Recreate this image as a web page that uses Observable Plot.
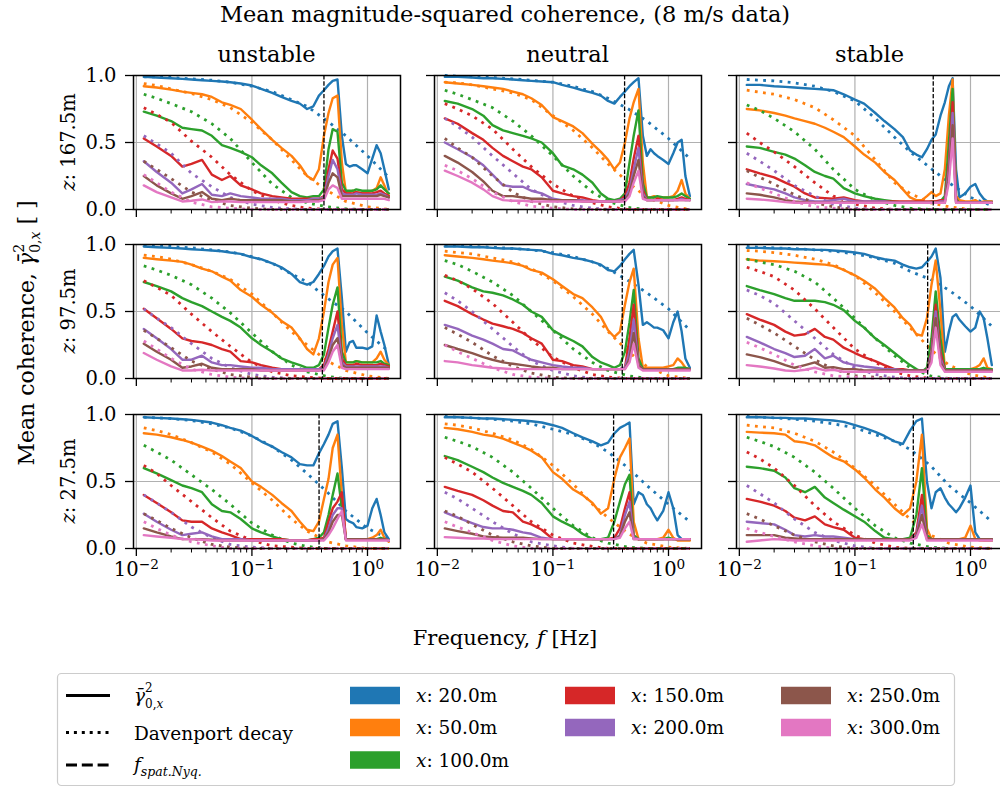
<!DOCTYPE html>
<html><head><meta charset="utf-8">
<script src="https://cdn.jsdelivr.net/npm/d3@7"></script>
<script src="https://cdn.jsdelivr.net/npm/@observablehq/plot@0.6"></script>
<style>
html,body{margin:0;padding:0;background:#fff;}
#fig{position:relative;width:1000px;height:789px;overflow:hidden;background:#fff;}
#fig svg.panel{position:absolute;}
#overlay{position:absolute;left:0;top:0;pointer-events:none;}
</style></head><body><div id="fig"></div>
<script>
// ---------------- data ----------------
const titleText = "Mean magnitude-squared coherence, (8 m/s data)";
const stabilities = ["unstable", "neutral", "stable"];
const heights = [167.5, 97.5, 27.5];
const distances = [20, 50, 100, 150, 200, 250, 300];
const colors = ["#1f77b4", "#ff7f0e", "#2ca02c", "#d62728", "#9467bd", "#8c564b", "#e377c2"];
const xMajorTicks = [0.01, 0.1, 1];
const xMinorTicks = [0.02,0.03,0.04,0.05,0.06,0.07,0.08,0.09,0.2,0.3,0.4,0.5,0.6,0.7,0.8,0.9];
const yTicks = [0, 0.5, 1];

// frequency grid of the measured mean coherence curves [Hz]
const freqs = [0.0116,0.015,0.02,0.025,0.03, 0.037,0.045,0.055,0.065,0.08, 0.1,0.12,0.15,0.18,0.22, 0.26,0.3,0.34,0.38,0.42, 0.46,0.5,0.55,0.6,0.65, 0.7,0.75,0.8,0.9,1.0, 1.1,1.2,1.3,1.4,1.53];
// frequency grid of the Davenport decay curves [Hz]
const davFreqs = [0.0116,0.015,0.02,0.03,0.045,0.065,0.1,0.15,0.22,0.3,0.45,0.65,1.0,1.53];

// spatial Nyquist frequency per row (z) and column (stability)
const nyq_z167 = [0.42, 0.417, 0.476];
const nyq_z97  = [0.407, 0.398, 0.426];
const nyq_z27  = [0.381, 0.335, 0.32];

// mean coherence, rows = x: 20, 50, 100, 150, 200, 250, 300 m
const coh_unstable_167 = [
 [0.99,0.985,0.98,0.975,0.97, 0.965,0.96,0.955,0.95,0.94, 0.925,0.9,0.87,0.84,0.81, 0.79,0.75,0.77,0.85,0.89, 0.93,0.96,0.97,0.55,0.34, 0.32,0.33,0.33,0.3,0.27, 0.38,0.48,0.42,0.3,0.15],
 [0.92,0.91,0.895,0.88,0.87, 0.86,0.84,0.8,0.78,0.75, 0.67,0.6,0.52,0.46,0.4, 0.33,0.25,0.22,0.3,0.55, 0.72,0.83,0.85,0.35,0.13, 0.13,0.14,0.13,0.12,0.13, 0.14,0.16,0.24,0.18,0.1],
 [0.73,0.7,0.66,0.61,0.6, 0.59,0.55,0.48,0.46,0.43, 0.39,0.33,0.27,0.2,0.13, 0.1,0.09,0.1,0.1,0.15, 0.45,0.6,0.58,0.2,0.14, 0.14,0.14,0.15,0.14,0.14, 0.14,0.15,0.18,0.15,0.12],
 [0.53,0.47,0.4,0.32,0.34, 0.37,0.26,0.22,0.25,0.18, 0.15,0.12,0.1,0.09,0.08, 0.08,0.08,0.08,0.08,0.1, 0.3,0.44,0.38,0.15,0.12, 0.12,0.12,0.13,0.12,0.12, 0.12,0.13,0.14,0.12,0.1],
 [0.36,0.28,0.2,0.12,0.15, 0.19,0.11,0.1,0.12,0.1, 0.09,0.08,0.08,0.08,0.07, 0.07,0.07,0.08,0.08,0.09, 0.25,0.37,0.3,0.12,0.11, 0.11,0.11,0.12,0.11,0.11, 0.11,0.11,0.12,0.11,0.09],
 [0.25,0.18,0.12,0.08,0.1, 0.13,0.08,0.07,0.08,0.07, 0.07,0.07,0.07,0.07,0.06, 0.06,0.06,0.07,0.07,0.08, 0.2,0.27,0.24,0.1,0.1, 0.1,0.1,0.1,0.1,0.1, 0.1,0.1,0.11,0.1,0.09],
 [0.18,0.13,0.09,0.06,0.065, 0.075,0.055,0.06,0.06,0.055, 0.055,0.055,0.055,0.055,0.055, 0.055,0.06,0.06,0.06,0.07, 0.15,0.18,0.16,0.08,0.08, 0.08,0.08,0.08,0.08,0.08, 0.08,0.08,0.08,0.08,0.07]
];
const coh_neutral_167 = [
 [0.99,0.99,0.985,0.98,0.98, 0.975,0.97,0.965,0.96,0.955, 0.95,0.93,0.91,0.89,0.87, 0.85,0.81,0.79,0.84,0.88, 0.92,0.95,0.98,0.55,0.4, 0.45,0.42,0.4,0.37,0.34, 0.42,0.5,0.52,0.25,0.1],
 [0.95,0.94,0.93,0.92,0.91, 0.9,0.88,0.86,0.83,0.78, 0.69,0.66,0.62,0.57,0.49, 0.43,0.37,0.3,0.35,0.5, 0.68,0.8,0.9,0.35,0.09, 0.09,0.1,0.09,0.09,0.09, 0.1,0.14,0.22,0.12,0.08],
 [0.81,0.79,0.75,0.7,0.63, 0.59,0.57,0.55,0.53,0.5, 0.42,0.33,0.3,0.26,0.2, 0.12,0.08,0.07,0.08,0.12, 0.35,0.55,0.74,0.2,0.09, 0.09,0.09,0.1,0.09,0.09, 0.09,0.1,0.12,0.1,0.08],
 [0.68,0.64,0.57,0.52,0.46, 0.4,0.36,0.32,0.3,0.24, 0.14,0.12,0.1,0.09,0.07, 0.06,0.06,0.06,0.07,0.1, 0.2,0.38,0.55,0.15,0.07, 0.07,0.07,0.08,0.07,0.07, 0.07,0.08,0.09,0.08,0.07],
 [0.5,0.45,0.39,0.33,0.26, 0.18,0.17,0.17,0.14,0.12, 0.08,0.07,0.07,0.07,0.06, 0.06,0.06,0.06,0.07,0.08, 0.15,0.3,0.46,0.12,0.07, 0.07,0.07,0.07,0.07,0.07, 0.07,0.07,0.08,0.07,0.07],
 [0.4,0.35,0.28,0.21,0.14, 0.1,0.1,0.09,0.08,0.08, 0.07,0.07,0.07,0.06,0.06, 0.06,0.06,0.06,0.06,0.07, 0.12,0.25,0.37,0.1,0.07, 0.07,0.07,0.07,0.07,0.07, 0.07,0.07,0.07,0.07,0.07],
 [0.29,0.25,0.2,0.15,0.1, 0.07,0.065,0.065,0.06,0.06, 0.06,0.06,0.06,0.06,0.06, 0.06,0.06,0.06,0.06,0.06, 0.1,0.2,0.29,0.08,0.07, 0.07,0.07,0.07,0.07,0.07, 0.07,0.07,0.07,0.07,0.07]
];
const coh_stable_167 = [
 [0.93,0.93,0.92,0.915,0.91, 0.905,0.9,0.895,0.89,0.86, 0.82,0.79,0.72,0.66,0.6, 0.54,0.44,0.41,0.39,0.45, 0.52,0.56,0.7,0.8,0.92, 0.98,0.3,0.09,0.12,0.17, 0.19,0.12,0.08,0.06,0.06],
 [0.75,0.74,0.72,0.7,0.68, 0.66,0.64,0.61,0.58,0.54, 0.47,0.41,0.35,0.28,0.22, 0.15,0.09,0.07,0.07,0.1, 0.13,0.1,0.12,0.3,0.7, 0.97,0.1,0.07,0.06,0.06, 0.07,0.05,0.06,0.06,0.06],
 [0.47,0.46,0.43,0.41,0.38, 0.33,0.28,0.25,0.23,0.16, 0.12,0.1,0.08,0.07,0.06, 0.05,0.05,0.05,0.05,0.05, 0.06,0.06,0.06,0.1,0.5, 0.9,0.08,0.05,0.05,0.05, 0.05,0.05,0.05,0.05,0.05],
 [0.3,0.27,0.24,0.2,0.17, 0.12,0.09,0.085,0.08,0.09, 0.07,0.06,0.06,0.06,0.06, 0.06,0.06,0.06,0.06,0.06, 0.06,0.06,0.07,0.07,0.35, 0.8,0.07,0.05,0.05,0.05, 0.05,0.05,0.05,0.05,0.05],
 [0.19,0.17,0.15,0.12,0.09, 0.07,0.06,0.06,0.07,0.08, 0.06,0.06,0.06,0.06,0.05, 0.05,0.05,0.05,0.05,0.05, 0.05,0.05,0.06,0.06,0.3, 0.72,0.06,0.05,0.05,0.05, 0.05,0.05,0.05,0.05,0.05],
 [0.12,0.11,0.09,0.07,0.06, 0.055,0.05,0.05,0.05,0.055, 0.05,0.05,0.05,0.05,0.05, 0.05,0.05,0.05,0.05,0.05, 0.05,0.05,0.05,0.05,0.25, 0.63,0.05,0.05,0.05,0.05, 0.05,0.05,0.05,0.05,0.05],
 [0.08,0.075,0.065,0.055,0.05, 0.05,0.05,0.05,0.05,0.05, 0.05,0.05,0.05,0.05,0.05, 0.05,0.05,0.05,0.05,0.05, 0.05,0.05,0.05,0.05,0.2, 0.53,0.05,0.05,0.05,0.05, 0.05,0.05,0.05,0.05,0.05]
];
const coh_unstable_97 = [
 [0.985,0.98,0.975,0.97,0.965, 0.96,0.955,0.95,0.94,0.93, 0.905,0.89,0.86,0.83,0.78, 0.72,0.7,0.72,0.78,0.84, 0.91,0.95,0.97,0.6,0.2, 0.27,0.28,0.23,0.23,0.22, 0.24,0.47,0.35,0.25,0.1],
 [0.9,0.89,0.88,0.87,0.85, 0.82,0.8,0.76,0.73,0.66, 0.61,0.55,0.49,0.43,0.38, 0.3,0.22,0.18,0.3,0.5, 0.72,0.85,0.9,0.4,0.12, 0.12,0.12,0.13,0.12,0.12, 0.12,0.15,0.2,0.14,0.1],
 [0.72,0.69,0.65,0.6,0.57, 0.54,0.5,0.46,0.43,0.38, 0.3,0.25,0.2,0.15,0.12, 0.1,0.08,0.08,0.1,0.18, 0.38,0.55,0.68,0.2,0.12, 0.12,0.12,0.13,0.12,0.12, 0.12,0.12,0.13,0.11,0.1],
 [0.52,0.45,0.37,0.3,0.28, 0.27,0.25,0.22,0.2,0.13, 0.12,0.1,0.08,0.07,0.07, 0.07,0.07,0.07,0.07,0.1, 0.22,0.35,0.5,0.15,0.1, 0.1,0.1,0.11,0.1,0.1, 0.1,0.1,0.11,0.1,0.09],
 [0.37,0.3,0.22,0.14,0.14, 0.17,0.12,0.1,0.1,0.09, 0.08,0.08,0.07,0.07,0.07, 0.07,0.07,0.07,0.07,0.08, 0.18,0.3,0.4,0.12,0.09, 0.09,0.09,0.09,0.09,0.09, 0.09,0.09,0.09,0.09,0.08],
 [0.26,0.2,0.14,0.08,0.09, 0.11,0.08,0.07,0.07,0.07, 0.07,0.06,0.06,0.06,0.06, 0.06,0.06,0.06,0.06,0.07, 0.15,0.25,0.3,0.1,0.08, 0.08,0.08,0.08,0.08,0.08, 0.08,0.08,0.08,0.08,0.08],
 [0.19,0.14,0.09,0.06,0.06, 0.065,0.06,0.06,0.06,0.06, 0.06,0.06,0.06,0.06,0.06, 0.06,0.06,0.06,0.06,0.06, 0.12,0.2,0.25,0.08,0.07, 0.07,0.07,0.07,0.07,0.07, 0.07,0.07,0.07,0.07,0.07]
];
const coh_neutral_97 = [
 [0.985,0.985,0.98,0.98,0.975, 0.97,0.97,0.965,0.96,0.955, 0.93,0.92,0.9,0.89,0.87, 0.85,0.81,0.8,0.84,0.89, 0.93,0.96,0.7,0.4,0.42, 0.4,0.38,0.38,0.36,0.3, 0.42,0.5,0.35,0.15,0.08],
 [0.92,0.91,0.9,0.89,0.88, 0.87,0.86,0.84,0.81,0.79, 0.74,0.69,0.63,0.6,0.53, 0.46,0.36,0.31,0.35,0.55, 0.72,0.82,0.3,0.08,0.08, 0.08,0.08,0.08,0.08,0.09, 0.1,0.15,0.12,0.08,0.07],
 [0.76,0.73,0.68,0.65,0.64, 0.62,0.59,0.55,0.5,0.46, 0.36,0.32,0.28,0.24,0.16, 0.12,0.1,0.08,0.1,0.2, 0.42,0.66,0.15,0.07,0.07, 0.07,0.07,0.07,0.07,0.07, 0.07,0.08,0.08,0.08,0.07],
 [0.58,0.54,0.48,0.44,0.41, 0.39,0.37,0.34,0.3,0.26, 0.14,0.13,0.1,0.09,0.07, 0.07,0.07,0.07,0.07,0.08, 0.3,0.55,0.1,0.07,0.07, 0.07,0.07,0.07,0.07,0.07, 0.07,0.07,0.07,0.07,0.07],
 [0.4,0.37,0.32,0.29,0.26, 0.22,0.21,0.17,0.14,0.12, 0.1,0.09,0.08,0.08,0.07, 0.07,0.07,0.07,0.07,0.08, 0.2,0.44,0.1,0.07,0.07, 0.07,0.07,0.07,0.07,0.07, 0.07,0.07,0.07,0.07,0.07],
 [0.25,0.22,0.19,0.16,0.14, 0.12,0.11,0.1,0.09,0.08, 0.08,0.07,0.07,0.07,0.07, 0.07,0.07,0.07,0.07,0.07, 0.15,0.34,0.1,0.07,0.07, 0.07,0.07,0.07,0.07,0.07, 0.07,0.07,0.07,0.07,0.07],
 [0.13,0.12,0.1,0.09,0.08, 0.075,0.07,0.07,0.07,0.07, 0.07,0.07,0.07,0.07,0.07, 0.07,0.07,0.07,0.07,0.07, 0.12,0.26,0.08,0.06,0.06, 0.06,0.06,0.06,0.06,0.06, 0.06,0.06,0.06,0.06,0.06]
];
const coh_stable_97 = [
 [0.975,0.975,0.97,0.97,0.965, 0.965,0.96,0.96,0.955,0.95, 0.94,0.93,0.905,0.89,0.88, 0.85,0.83,0.82,0.83,0.87, 0.91,0.97,0.75,0.2,0.35, 0.46,0.48,0.44,0.39,0.35, 0.38,0.5,0.45,0.3,0.1],
 [0.89,0.88,0.875,0.87,0.865, 0.86,0.855,0.85,0.84,0.81, 0.77,0.73,0.67,0.6,0.53, 0.45,0.4,0.33,0.32,0.45, 0.7,0.88,0.5,0.07,0.07, 0.07,0.07,0.07,0.07,0.07, 0.08,0.1,0.15,0.08,0.07],
 [0.69,0.66,0.63,0.6,0.58, 0.58,0.58,0.57,0.55,0.51, 0.43,0.38,0.3,0.25,0.19, 0.14,0.1,0.07,0.05,0.08, 0.3,0.65,0.3,0.07,0.07, 0.07,0.07,0.07,0.07,0.07, 0.07,0.07,0.08,0.07,0.07],
 [0.48,0.44,0.4,0.35,0.32, 0.33,0.37,0.31,0.29,0.23, 0.19,0.16,0.13,0.1,0.07, 0.07,0.06,0.06,0.06,0.06, 0.2,0.55,0.2,0.06,0.06, 0.06,0.06,0.06,0.06,0.06, 0.06,0.06,0.06,0.06,0.06],
 [0.31,0.27,0.22,0.19,0.16, 0.17,0.22,0.15,0.17,0.12, 0.1,0.09,0.08,0.07,0.07, 0.06,0.06,0.06,0.06,0.06, 0.18,0.5,0.15,0.06,0.06, 0.06,0.06,0.06,0.06,0.06, 0.06,0.06,0.06,0.06,0.06],
 [0.18,0.16,0.13,0.1,0.08, 0.1,0.12,0.08,0.085,0.07, 0.07,0.06,0.06,0.06,0.06, 0.06,0.06,0.06,0.06,0.06, 0.15,0.45,0.12,0.06,0.06, 0.06,0.06,0.06,0.06,0.06, 0.06,0.06,0.06,0.06,0.06],
 [0.1,0.09,0.075,0.06,0.055, 0.065,0.08,0.06,0.065,0.05, 0.05,0.05,0.05,0.05,0.05, 0.05,0.05,0.05,0.05,0.05, 0.12,0.38,0.1,0.05,0.05, 0.05,0.05,0.05,0.05,0.05, 0.05,0.05,0.05,0.05,0.05]
];
const coh_unstable_27 = [
 [0.98,0.975,0.97,0.965,0.96, 0.95,0.94,0.92,0.9,0.88, 0.84,0.8,0.76,0.72,0.68, 0.63,0.62,0.62,0.71,0.78, 0.85,0.93,0.95,0.6,0.22, 0.2,0.19,0.16,0.15,0.17, 0.3,0.37,0.25,0.12,0.07],
 [0.86,0.85,0.83,0.81,0.79, 0.76,0.73,0.69,0.65,0.6, 0.5,0.46,0.4,0.34,0.28, 0.2,0.14,0.13,0.2,0.37, 0.52,0.75,0.85,0.4,0.07, 0.07,0.07,0.07,0.07,0.07, 0.08,0.1,0.14,0.08,0.05],
 [0.6,0.56,0.51,0.47,0.45, 0.42,0.33,0.28,0.27,0.22, 0.15,0.12,0.09,0.07,0.06, 0.06,0.06,0.07,0.08,0.12, 0.25,0.4,0.56,0.3,0.07, 0.07,0.07,0.07,0.07,0.07, 0.07,0.07,0.08,0.07,0.06],
 [0.4,0.34,0.27,0.21,0.2, 0.2,0.15,0.12,0.1,0.07, 0.07,0.07,0.07,0.07,0.06, 0.06,0.06,0.07,0.07,0.08, 0.2,0.3,0.35,0.42,0.07, 0.07,0.07,0.07,0.07,0.07, 0.07,0.07,0.07,0.07,0.06],
 [0.26,0.2,0.14,0.1,0.11, 0.12,0.09,0.07,0.07,0.07, 0.06,0.06,0.06,0.06,0.06, 0.06,0.06,0.06,0.06,0.07, 0.15,0.25,0.3,0.3,0.07, 0.07,0.07,0.07,0.07,0.07, 0.07,0.07,0.07,0.07,0.06],
 [0.15,0.12,0.09,0.07,0.07, 0.07,0.065,0.06,0.06,0.06, 0.06,0.06,0.06,0.06,0.06, 0.06,0.06,0.06,0.06,0.07, 0.12,0.2,0.25,0.25,0.07, 0.07,0.07,0.07,0.07,0.07, 0.07,0.07,0.07,0.07,0.06],
 [0.1,0.09,0.08,0.07,0.07, 0.065,0.06,0.06,0.06,0.06, 0.06,0.06,0.06,0.06,0.06, 0.06,0.06,0.06,0.06,0.06, 0.1,0.15,0.22,0.28,0.06, 0.06,0.06,0.06,0.06,0.06, 0.06,0.06,0.06,0.06,0.06]
];
const coh_neutral_27 = [
 [0.98,0.98,0.975,0.97,0.97, 0.965,0.96,0.955,0.95,0.94, 0.92,0.9,0.86,0.83,0.8, 0.77,0.79,0.86,0.9,0.92, 0.94,0.33,0.42,0.4,0.33, 0.3,0.25,0.21,0.28,0.42, 0.3,0.1,0.07,0.07,0.07],
 [0.9,0.89,0.87,0.85,0.84, 0.82,0.79,0.76,0.73,0.68, 0.57,0.52,0.44,0.4,0.34, 0.26,0.3,0.52,0.68,0.75, 0.82,0.2,0.07,0.07,0.07, 0.07,0.07,0.07,0.08,0.14, 0.08,0.06,0.06,0.06,0.06],
 [0.69,0.66,0.61,0.57,0.53, 0.49,0.46,0.43,0.4,0.34, 0.24,0.2,0.16,0.11,0.07, 0.07,0.08,0.2,0.35,0.48, 0.55,0.1,0.07,0.07,0.07, 0.07,0.07,0.07,0.07,0.08, 0.07,0.07,0.07,0.07,0.07],
 [0.46,0.43,0.4,0.36,0.32, 0.28,0.27,0.2,0.18,0.14, 0.07,0.07,0.07,0.07,0.07, 0.07,0.07,0.08,0.15,0.3, 0.42,0.08,0.07,0.07,0.07, 0.07,0.07,0.07,0.07,0.07, 0.07,0.07,0.07,0.07,0.07],
 [0.27,0.23,0.19,0.16,0.15, 0.15,0.14,0.12,0.11,0.08, 0.07,0.07,0.07,0.07,0.07, 0.07,0.07,0.07,0.1,0.25, 0.35,0.08,0.07,0.07,0.07, 0.07,0.07,0.07,0.07,0.07, 0.07,0.07,0.07,0.07,0.07],
 [0.15,0.13,0.11,0.09,0.085, 0.08,0.08,0.08,0.075,0.07, 0.07,0.07,0.07,0.07,0.07, 0.07,0.07,0.07,0.09,0.2, 0.27,0.07,0.07,0.07,0.07, 0.07,0.07,0.07,0.07,0.07, 0.07,0.07,0.07,0.07,0.07],
 [0.085,0.08,0.075,0.075,0.07, 0.07,0.07,0.07,0.07,0.07, 0.07,0.07,0.07,0.07,0.07, 0.07,0.07,0.07,0.08,0.15, 0.2,0.07,0.07,0.07,0.07, 0.07,0.07,0.07,0.07,0.07, 0.07,0.07,0.07,0.07,0.07]
];
const coh_stable_27 = [
 [0.98,0.98,0.975,0.975,0.97, 0.97,0.965,0.96,0.955,0.945, 0.92,0.9,0.87,0.84,0.8, 0.78,0.88,0.95,0.97,0.5, 0.3,0.42,0.45,0.38,0.33, 0.3,0.27,0.3,0.38,0.47, 0.12,0.07,0.06,0.06,0.06],
 [0.87,0.865,0.86,0.85,0.8, 0.79,0.77,0.72,0.68,0.65, 0.59,0.53,0.44,0.38,0.3, 0.25,0.3,0.5,0.85,0.15, 0.07,0.07,0.07,0.07,0.07, 0.07,0.07,0.07,0.08,0.17, 0.07,0.06,0.06,0.06,0.06],
 [0.61,0.6,0.58,0.53,0.45, 0.42,0.46,0.38,0.34,0.29, 0.24,0.2,0.13,0.08,0.07, 0.07,0.08,0.25,0.6,0.1, 0.07,0.07,0.07,0.07,0.07, 0.07,0.07,0.07,0.07,0.07, 0.07,0.07,0.07,0.07,0.07],
 [0.37,0.35,0.32,0.28,0.23, 0.21,0.24,0.18,0.16,0.14, 0.08,0.07,0.07,0.07,0.07, 0.07,0.07,0.12,0.4,0.08, 0.07,0.07,0.07,0.07,0.07, 0.07,0.07,0.07,0.07,0.07, 0.07,0.07,0.07,0.07,0.07],
 [0.2,0.19,0.18,0.14,0.1, 0.09,0.1,0.09,0.09,0.08, 0.07,0.07,0.07,0.07,0.07, 0.07,0.07,0.1,0.32,0.07, 0.07,0.07,0.07,0.07,0.07, 0.07,0.07,0.07,0.07,0.07, 0.07,0.07,0.07,0.07,0.07],
 [0.1,0.1,0.1,0.08,0.075, 0.07,0.07,0.07,0.07,0.07, 0.07,0.07,0.07,0.07,0.07, 0.07,0.07,0.09,0.25,0.07, 0.07,0.07,0.07,0.07,0.07, 0.07,0.07,0.07,0.07,0.07, 0.07,0.07,0.07,0.07,0.07],
 [0.05,0.06,0.07,0.065,0.06, 0.06,0.06,0.06,0.06,0.06, 0.06,0.06,0.06,0.06,0.06, 0.06,0.06,0.08,0.18,0.06, 0.06,0.06,0.06,0.06,0.06, 0.06,0.06,0.06,0.06,0.06, 0.06,0.06,0.06,0.06,0.06]
];

// Davenport decay, rows = x: 20 ... 300 m
const dav_unstable_167 = [
 [0.99,0.99,0.985,0.975,0.965,0.95,0.92,0.88,0.82,0.77,0.66,0.55,0.4,0.24],
 [0.94,0.925,0.9,0.865,0.82,0.76,0.65,0.52,0.37,0.25,0.14,0.06,0.02,0],
 [0.86,0.83,0.79,0.73,0.64,0.53,0.35,0.19,0.09,0.05,0.02,0.005,0,0],
 [0.76,0.71,0.65,0.51,0.39,0.26,0.14,0.07,0.03,0.01,0,0,0,0],
 [0.55,0.49,0.42,0.27,0.17,0.09,0.04,0.015,0.005,0,0,0,0,0],
 [0.36,0.3,0.23,0.13,0.07,0.03,0.01,0,0,0,0,0,0,0],
 [0.26,0.2,0.13,0.055,0.02,0.01,0,0,0,0,0,0,0,0]
];
const dav_neutral_167 = [
 [1.0,0.995,0.99,0.985,0.975,0.965,0.95,0.92,0.88,0.83,0.75,0.66,0.53,0.38],
 [0.95,0.945,0.93,0.9,0.87,0.82,0.7,0.59,0.46,0.34,0.2,0.09,0.03,0],
 [0.89,0.86,0.82,0.76,0.66,0.55,0.4,0.25,0.13,0.06,0.015,0,0,0],
 [0.79,0.75,0.7,0.6,0.45,0.32,0.19,0.1,0.05,0.02,0,0,0,0],
 [0.68,0.62,0.54,0.4,0.27,0.15,0.07,0.03,0.01,0,0,0,0,0],
 [0.53,0.46,0.39,0.25,0.13,0.06,0.02,0.005,0,0,0,0,0,0],
 [0.33,0.29,0.23,0.13,0.06,0.025,0.01,0,0,0,0,0,0,0]
];
const dav_stable_167 = [
 [0.97,0.965,0.96,0.945,0.92,0.88,0.81,0.68,0.54,0.43,0.31,0.2,0.09,0.03],
 [0.89,0.875,0.86,0.82,0.76,0.67,0.55,0.37,0.2,0.12,0.05,0.02,0,0],
 [0.78,0.74,0.68,0.58,0.45,0.3,0.15,0.07,0.03,0.01,0,0,0,0],
 [0.57,0.5,0.43,0.32,0.2,0.1,0.04,0.01,0,0,0,0,0,0],
 [0.42,0.36,0.29,0.18,0.1,0.04,0.01,0,0,0,0,0,0,0],
 [0.29,0.24,0.19,0.11,0.05,0.02,0,0,0,0,0,0,0,0],
 [0.2,0.16,0.12,0.06,0.02,0.01,0,0,0,0,0,0,0,0]
];
const dav_unstable_97 = [
 [0.99,0.99,0.985,0.975,0.96,0.945,0.91,0.86,0.78,0.72,0.6,0.5,0.34,0.2],
 [0.92,0.91,0.89,0.85,0.8,0.74,0.63,0.49,0.35,0.25,0.13,0.06,0.02,0],
 [0.84,0.81,0.77,0.7,0.6,0.49,0.34,0.2,0.1,0.05,0.015,0,0,0],
 [0.73,0.68,0.62,0.48,0.35,0.24,0.12,0.05,0.02,0.01,0,0,0,0],
 [0.52,0.45,0.38,0.26,0.15,0.08,0.03,0.01,0,0,0,0,0,0],
 [0.36,0.3,0.23,0.13,0.07,0.03,0.01,0,0,0,0,0,0,0],
 [0.28,0.22,0.15,0.07,0.03,0.01,0,0,0,0,0,0,0,0]
];
const dav_neutral_97 = [
 [0.99,0.99,0.985,0.98,0.97,0.96,0.94,0.91,0.87,0.82,0.73,0.64,0.52,0.36],
 [0.95,0.94,0.93,0.9,0.87,0.82,0.73,0.61,0.48,0.35,0.2,0.09,0.02,0],
 [0.88,0.85,0.8,0.72,0.62,0.5,0.36,0.22,0.12,0.06,0.02,0,0,0],
 [0.77,0.73,0.67,0.56,0.42,0.29,0.16,0.08,0.03,0.01,0,0,0,0],
 [0.64,0.58,0.5,0.37,0.24,0.13,0.06,0.02,0,0,0,0,0,0],
 [0.38,0.33,0.27,0.17,0.09,0.04,0.01,0,0,0,0,0,0,0],
 [0.25,0.2,0.15,0.08,0.03,0.01,0,0,0,0,0,0,0,0]
];
const dav_stable_97 = [
 [0.985,0.98,0.975,0.97,0.96,0.95,0.93,0.9,0.86,0.8,0.74,0.66,0.54,0.39],
 [0.955,0.95,0.94,0.92,0.89,0.85,0.77,0.64,0.5,0.38,0.22,0.1,0.03,0],
 [0.89,0.87,0.85,0.8,0.72,0.6,0.45,0.3,0.17,0.08,0.02,0,0,0],
 [0.83,0.8,0.76,0.66,0.52,0.38,0.22,0.12,0.05,0.02,0,0,0,0],
 [0.66,0.62,0.56,0.43,0.3,0.18,0.08,0.03,0.01,0,0,0,0,0],
 [0.45,0.4,0.34,0.24,0.14,0.07,0.02,0.01,0,0,0,0,0,0],
 [0.27,0.23,0.18,0.1,0.05,0.02,0.01,0,0,0,0,0,0,0]
];
const dav_unstable_27 = [
 [0.98,0.975,0.97,0.955,0.93,0.9,0.84,0.76,0.66,0.56,0.42,0.28,0.15,0.07],
 [0.9,0.88,0.85,0.79,0.72,0.63,0.49,0.36,0.22,0.13,0.05,0.02,0,0],
 [0.77,0.72,0.66,0.55,0.44,0.33,0.19,0.1,0.04,0.015,0,0,0,0],
 [0.62,0.56,0.47,0.35,0.23,0.13,0.06,0.02,0.01,0,0,0,0,0],
 [0.4,0.34,0.27,0.16,0.08,0.03,0.01,0,0,0,0,0,0,0],
 [0.26,0.21,0.15,0.08,0.03,0.01,0,0,0,0,0,0,0,0],
 [0.2,0.15,0.1,0.05,0.02,0,0,0,0,0,0,0,0,0]
];
const dav_neutral_27 = [
 [0.985,0.98,0.975,0.965,0.95,0.93,0.89,0.85,0.79,0.72,0.6,0.47,0.33,0.2],
 [0.93,0.92,0.9,0.86,0.81,0.74,0.62,0.48,0.33,0.23,0.11,0.04,0.01,0],
 [0.83,0.8,0.76,0.68,0.57,0.45,0.3,0.17,0.08,0.04,0.01,0,0,0],
 [0.68,0.63,0.57,0.45,0.32,0.2,0.1,0.04,0.015,0,0,0,0,0],
 [0.42,0.37,0.3,0.2,0.11,0.05,0.02,0,0,0,0,0,0,0],
 [0.28,0.24,0.18,0.1,0.05,0.02,0,0,0,0,0,0,0,0],
 [0.2,0.16,0.12,0.06,0.02,0,0,0,0,0,0,0,0,0]
];
const dav_stable_27 = [
 [0.985,0.98,0.975,0.965,0.95,0.93,0.9,0.85,0.8,0.74,0.62,0.47,0.34,0.2],
 [0.92,0.91,0.9,0.86,0.8,0.72,0.6,0.47,0.33,0.22,0.1,0.04,0.01,0],
 [0.83,0.8,0.76,0.68,0.57,0.45,0.3,0.17,0.08,0.04,0.01,0,0,0],
 [0.72,0.67,0.6,0.47,0.32,0.2,0.1,0.04,0.01,0,0,0,0,0],
 [0.47,0.41,0.34,0.22,0.12,0.06,0.02,0,0,0,0,0,0,0],
 [0.26,0.22,0.17,0.1,0.05,0.02,0,0,0,0,0,0,0,0],
 [0.15,0.12,0.09,0.05,0.02,0,0,0,0,0,0,0,0,0]
];

// ---------------- layout ----------------
const cohGrid = [[coh_unstable_167, coh_neutral_167, coh_stable_167],
                 [coh_unstable_97, coh_neutral_97, coh_stable_97],
                 [coh_unstable_27, coh_neutral_27, coh_stable_27]];
const davGrid = [[dav_unstable_167, dav_neutral_167, dav_stable_167],
                 [dav_unstable_97, dav_neutral_97, dav_stable_97],
                 [dav_unstable_27, dav_neutral_27, dav_stable_27]];
const nyqGrid = [nyq_z167, nyq_z97, nyq_z27];

const FONT = "'DejaVu Serif', serif";
const colLeft = [133, 434, 736], rowTop = [75, 244, 414];
const PW = 267, PH = 134;
const ML = 62, MR = 6, MT = 6, MB = 52;
const xDomain = [0.00945, 1.93];
const fig = document.getElementById("fig");
const NS = "http://www.w3.org/2000/svg";

function supTicks(svg) {
  svg.querySelectorAll("text").forEach(t => {
    const m = /^10\^(.+)$/.exec(t.textContent);
    if (!m) return;
    t.textContent = "";
    const a = document.createElementNS(NS, "tspan"); a.textContent = "10"; t.appendChild(a);
    const b = document.createElementNS(NS, "tspan");
    b.textContent = m[1].replace("-", "\u2212");
    b.setAttribute("dy", "-0.55em"); b.setAttribute("font-size", "0.7em");
    t.appendChild(b);
  });
}

for (let ri = 0; ri < 3; ri++) {
  for (let ci = 0; ci < 3; ci++) {
    const coh = cohGrid[ri][ci], dav = davGrid[ri][ci], nyq = nyqGrid[ri][ci];
    const marks = [
      Plot.gridX({ticks: xMajorTicks, stroke: "#b0b0b0", strokeOpacity: 1, strokeWidth: 1.2}),
      Plot.gridY({ticks: yTicks, stroke: "#b0b0b0", strokeOpacity: 1, strokeWidth: 1.2})
    ];
    distances.forEach((d, k) => {
      const solid = freqs.map((f, i) => ({f, v: coh[k][i], d}));
      const dots = davFreqs.map((f, i) => ({f, v: dav[k][i], d}));
      marks.push(Plot.line(solid, {x: "f", y: "v", stroke: "d", strokeWidth: 2.4}));
      marks.push(Plot.line(dots, {x: "f", y: "v", stroke: "d", strokeWidth: 2.8,
        strokeDasharray: "2.8,5.4", strokeLinecap: "butt"}));
    });
    marks.push(Plot.ruleX([nyq], {stroke: "black", strokeWidth: 1.3, strokeDasharray: "4.4,1.9"}));
    marks.push(Plot.frame({stroke: "black", strokeWidth: 1.5}));
    marks.push(Plot.axisX({ticks: xMajorTicks, tickSize: 8, tickPadding: 6, strokeWidth: 1.3, label: null,
      tickFormat: ri === 2 ? (d => "10^" + Math.round(Math.log10(d))) : (() => "")}));
    marks.push(Plot.axisX({ticks: xMinorTicks, tickSize: 4.5, strokeWidth: 1, label: null, tickFormat: () => ""}));
    marks.push(Plot.axisY({ticks: yTicks, tickSize: 8, tickPadding: 9, strokeWidth: 1.3, label: null,
      tickFormat: ci === 0 ? (d => d.toFixed(1)) : (() => "")}));
    const svg = Plot.plot({
      width: PW + ML + MR, height: PH + MT + MB,
      marginLeft: ML, marginRight: MR, marginTop: MT, marginBottom: MB,
      x: {type: "log", domain: xDomain, label: null},
      y: {domain: [0, 1], label: null},
      color: {type: "ordinal", domain: distances, range: colors},
      style: {fontFamily: FONT, fontSize: "19.5px", background: "transparent", overflow: "visible", color: "black"},
      marks
    });
    svg.classList.add("panel");
    svg.style.left = (colLeft[ci] - ML) + "px";
    svg.style.top = (rowTop[ri] - MT) + "px";
    supTicks(svg);
    fig.appendChild(svg);
  }
}

// ---------------- text & legend overlay ----------------
const ov = d3.select(fig).append("svg").attr("id", "overlay")
  .attr("width", 1000).attr("height", 789).style("font-family", FONT);

ov.append("text").attr("x", 505).attr("y", 22).attr("text-anchor", "middle")
  .attr("font-size", 22.5).text(titleText);
stabilities.forEach((s, ci) => {
  ov.append("text").attr("x", colLeft[ci] + PW / 2).attr("y", 61.5)
    .attr("text-anchor", "middle").attr("font-size", 22.5).text(s);
});
heights.forEach((h, ri) => {
  const t = ov.append("text")
    .attr("transform", `translate(75,${rowTop[ri] + PH / 2}) rotate(-90)`)
    .attr("text-anchor", "middle").attr("font-size", 19.5);
  t.append("tspan").attr("font-style", "italic").text("z");
  t.append("tspan").text(": " + h.toFixed(1) + "m");
});
// y label
{
  const t = ov.append("text")
    .attr("transform", "translate(34,333) rotate(-90)")
    .attr("text-anchor", "middle").attr("font-size", 22);
  t.append("tspan").text("Mean coherence, ");
  t.append("tspan").attr("font-style", "italic").text("\u03b3\u0304");
  t.append("tspan").attr("font-size", 14).attr("dy", -10).text("2");
  t.append("tspan").attr("font-size", 14).attr("dx", -8.9).attr("dy", 16).attr("font-style", "normal").text("0,");
  t.append("tspan").attr("font-size", 14).attr("font-style", "italic").text("x");
  t.append("tspan").attr("dy", -6).text(" [ ]");
}
// x label
{
  const t = ov.append("text").attr("x", 505).attr("y", 645)
    .attr("text-anchor", "middle").attr("font-size", 21);
  t.append("tspan").text("Frequency, ");
  t.append("tspan").attr("font-style", "italic").text("f");
  t.append("tspan").text(" [Hz]");
}
// legend
{
  const g = ov.append("g");
  g.append("rect").attr("x", 57.5).attr("y", 673.5).attr("width", 897).attr("height", 112)
    .attr("rx", 4).attr("fill", "white").attr("stroke", "#cccccc").attr("stroke-width", 1.2);
  const fs = 18.5;
  const styleRows = [
    {y: 695.5, dash: null},
    {y: 732.5, dash: "3,4.9"},
    {y: 765, dash: "11,4.8"}
  ];
  styleRows.forEach(r => {
    const l = g.append("line").attr("x1", 66).attr("x2", 110).attr("y1", r.y).attr("y2", r.y)
      .attr("stroke", "black").attr("stroke-width", 3);
    if (r.dash) l.attr("stroke-dasharray", r.dash);
  });
  const t1 = g.append("text").attr("x", 134).attr("y", 702).attr("font-size", fs);
  t1.append("tspan").attr("font-style", "italic").text("\u03b3\u0304");
  t1.append("tspan").attr("font-size", 12).attr("dy", -10).text("2");
  t1.append("tspan").attr("font-size", 12).attr("dx", -7.7).attr("dy", 16).text("0,");
  t1.append("tspan").attr("font-size", 12).attr("font-style", "italic").text("x");
  g.append("text").attr("x", 134).attr("y", 739.5).attr("font-size", fs).text("Davenport decay");
  const t3 = g.append("text").attr("x", 134).attr("y", 771).attr("font-size", fs);
  t3.append("tspan").attr("font-style", "italic").text("f");
  t3.append("tspan").attr("font-size", 12.5).attr("dy", 5).attr("font-style", "italic").text("spat.Nyq.");

  const patchX = [350, 350, 350, 565, 565, 781, 781];
  const patchRowY = [695.5, 727.5, 760, 695.5, 727.5, 695.5, 727.5];
  distances.forEach((d, k) => {
    g.append("rect").attr("x", patchX[k]).attr("y", patchRowY[k] - 8.75)
      .attr("width", 50).attr("height", 17.5).attr("fill", colors[k]);
    const t = g.append("text").attr("x", patchX[k] + 66).attr("y", patchRowY[k] + 6.8).attr("font-size", fs);
    t.append("tspan").attr("font-style", "italic").text("x");
    t.append("tspan").text(": " + d.toFixed(1) + "m");
  });
}
</script></body></html>
